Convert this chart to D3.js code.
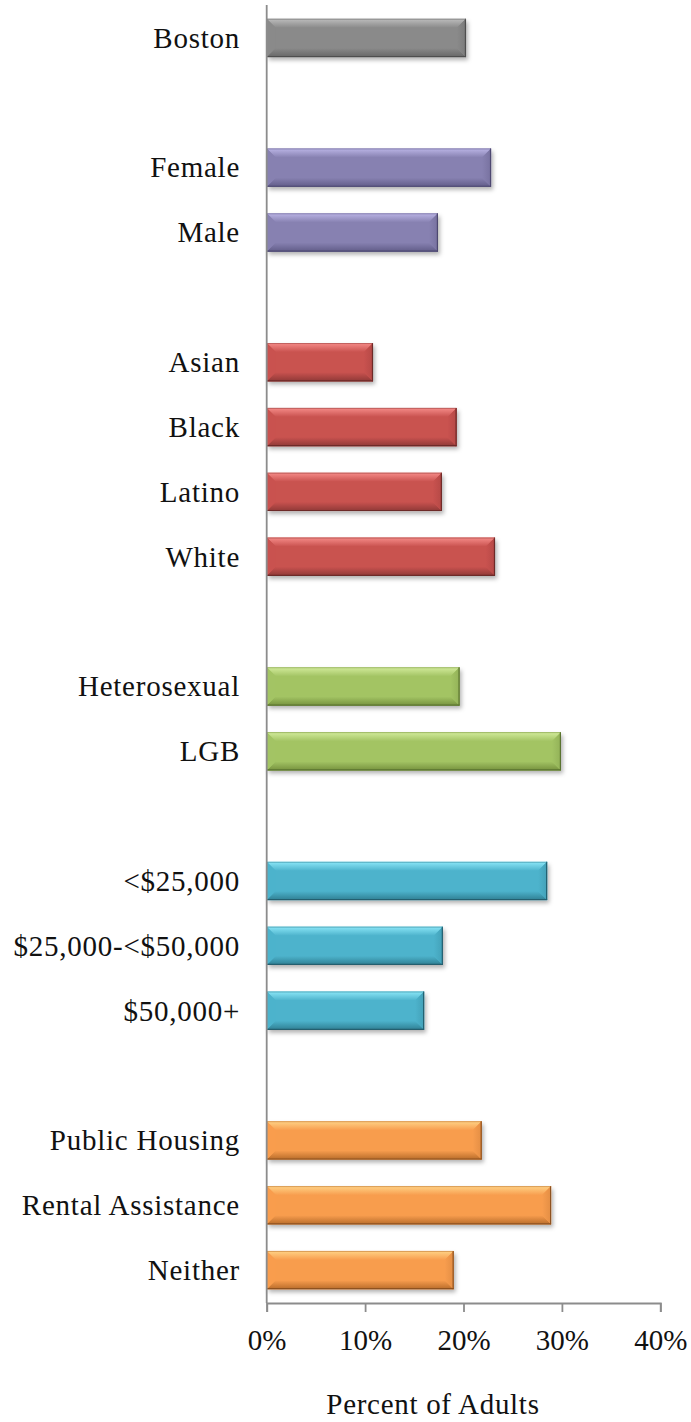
<!DOCTYPE html>
<html>
<head>
<meta charset="utf-8">
<script src="https://cdn.jsdelivr.net/npm/d3@7"></script>
<style>
  html, body { margin: 0; padding: 0; background: #fff; }
  svg { display: block; }
  text { font-family: "Liberation Serif", "Times New Roman", serif; fill: #111; }
</style>
</head>
<body>
<svg id="chart" width="691" height="1422"></svg>
<script>
// ---- data ----
const categories = ["Boston", "", "Female", "Male", " ", "Asian", "Black", "Latino", "White", "  ",
  "Heterosexual", "LGB", "   ", "<$25,000", "$25,000-<$50,000", "$50,000+", "    ",
  "Public Housing", "Rental Assistance", "Neither"];
const values = [20.25, null, 22.8, 17.4, null, 10.8, 19.3, 17.8, 23.2, null,
  19.6, 29.9, null, 28.5, 17.9, 16.0, null, 21.85, 28.9, 19.0];
const groups = ["total", null, "gender", "gender", null, "race", "race", "race", "race", null,
  "orientation", "orientation", null, "income", "income", "income", null,
  "housing", "housing", "housing"];
const tickValues = [0, 10, 20, 30, 40];
const axisTitle = "Percent of Adults";

const palette = {
  total:       { face: "#8a8a8a", light: "#bdbdbd", dark: "#676767", side: "#7b7b7b", edge: "#4e4e4e" },
  gender:      { face: "#8781b1", light: "#bbb5e6", dark: "#615c88", side: "#7872a0", edge: "#4d4870" },
  race:        { face: "#c9524f", light: "#f68c89", dark: "#8f3937", side: "#b54946", edge: "#6d2a28" },
  orientation: { face: "#a3c464", light: "#d3ec9c", dark: "#76923e", side: "#93b258", edge: "#5a7330" },
  income:      { face: "#4db3cc", light: "#8be6f7", dark: "#2f7f93", side: "#43a1b8", edge: "#245f6f" },
  housing:     { face: "#f89d4e", light: "#ffd386", dark: "#b86c2a", side: "#e38e44", edge: "#8e5220" }
};

// ---- layout ----
const svg = d3.select("#chart");
const x = d3.scaleLinear().domain([0, 40]).range([266.7, 660.3]);
const y = d3.scaleBand().domain(categories).range([5.5, 1302.5])
  .paddingInner(0.41).paddingOuter(0.205);

const defs = svg.append("defs");
const f = defs.append("filter").attr("id", "shadow")
  .attr("x", "-10%").attr("y", "-30%").attr("width", "130%").attr("height", "180%");
f.append("feDropShadow").attr("dx", 2).attr("dy", 3).attr("stdDeviation", 2.2)
  .attr("flood-color", "#000").attr("flood-opacity", 0.3);

Object.entries(palette).forEach(([k, c]) => {
  const gT = defs.append("linearGradient").attr("id", "top-" + k)
    .attr("x1", 0).attr("y1", 0).attr("x2", 0).attr("y2", 1);
  gT.append("stop").attr("offset", "0%").attr("stop-color", c.light);
  gT.append("stop").attr("offset", "100%").attr("stop-color", c.face);
  const gB = defs.append("linearGradient").attr("id", "bot-" + k)
    .attr("x1", 0).attr("y1", 0).attr("x2", 0).attr("y2", 1);
  gB.append("stop").attr("offset", "0%").attr("stop-color", c.face);
  gB.append("stop").attr("offset", "100%").attr("stop-color", c.dark);
  const gR = defs.append("linearGradient").attr("id", "right-" + k)
    .attr("x1", 0).attr("y1", 0).attr("x2", 1).attr("y2", 0);
  gR.append("stop").attr("offset", "0%").attr("stop-color", c.face);
  gR.append("stop").attr("offset", "100%").attr("stop-color", c.side);
});

const data = categories.map((c, i) => ({ cat: c, v: values[i], g: groups[i] }))
  .filter(d => d.v != null);

const bars = svg.append("g").selectAll("g").data(data).join("g");
const B = 9;
bars.each(function(d) {
  const g = d3.select(this);
  const c = palette[d.g];
  const x0 = x(0), x1 = x(d.v), y0 = y(d.cat), h = y.bandwidth(), y1 = y0 + h;
  g.append("rect").attr("x", x0).attr("y", y0).attr("width", x1 - x0).attr("height", h)
    .attr("fill", c.face).attr("filter", "url(#shadow)");
  g.append("polygon").attr("points", [[x0, y0], [x1, y0], [x1 - B, y0 + B], [x0 + B, y0 + B]].join(" "))
    .attr("fill", `url(#top-${d.g})`);
  g.append("polygon").attr("points", [[x0, y1], [x1, y1], [x1 - B, y1 - B], [x0 + B, y1 - B]].join(" "))
    .attr("fill", `url(#bot-${d.g})`);
  g.append("polygon").attr("points", [[x1, y0], [x1, y1], [x1 - B, y1 - B], [x1 - B, y0 + B]].join(" "))
    .attr("fill", `url(#right-${d.g})`);
  g.append("polygon").attr("points", [[x0, y0], [x0, y1], [x0 + B, y1 - B], [x0 + B, y0 + B]].join(" "))
    .attr("fill", c.face).attr("opacity", 0.9);
  g.append("line").attr("x1", x0).attr("x2", x1).attr("y1", y1 - 0.5).attr("y2", y1 - 0.5)
    .attr("stroke", c.edge).attr("stroke-width", 1.2);
  g.append("line").attr("x1", x1 - 0.5).attr("x2", x1 - 0.5).attr("y1", y0).attr("y2", y1)
    .attr("stroke", c.edge).attr("stroke-width", 1.2);
  g.append("line").attr("x1", x0).attr("x2", x1).attr("y1", y0 + 0.5).attr("y2", y0 + 0.5)
    .attr("stroke", c.dark).attr("stroke-opacity", 0.5).attr("stroke-width", 1);
});

// category labels
svg.append("g").selectAll("text").data(data).join("text")
  .attr("x", 240).attr("y", d => y(d.cat) + y.bandwidth() / 2)
  .attr("dy", "0.34em").attr("text-anchor", "end")
  .style("font-size", "29px").style("letter-spacing", "0.75px").text(d => d.cat);

// y axis line
svg.append("line").attr("x1", x(0)).attr("x2", x(0)).attr("y1", 5).attr("y2", 1303)
  .attr("stroke", "#8c8c8c").attr("stroke-width", 1.8);

// x axis
const xAxis = svg.append("g").attr("transform", "translate(0,1303)")
  .call(d3.axisBottom(x).tickValues(tickValues).tickSize(9).tickPadding(17)
    .tickFormat(d => d + "%"));
xAxis.select(".domain").attr("stroke", "#8c8c8c").attr("stroke-width", 1.8);
xAxis.selectAll(".tick line").attr("stroke", "#8c8c8c").attr("stroke-width", 1.8);
xAxis.selectAll(".tick text").style("font-size", "29px")
  .style("font-family", "'Liberation Serif', serif").attr("fill", "#111");

svg.append("text").attr("x", 433).attr("y", 1414).attr("text-anchor", "middle")
  .style("font-size", "29px").style("letter-spacing", "0.7px").text(axisTitle);
</script>
</body>
</html>
